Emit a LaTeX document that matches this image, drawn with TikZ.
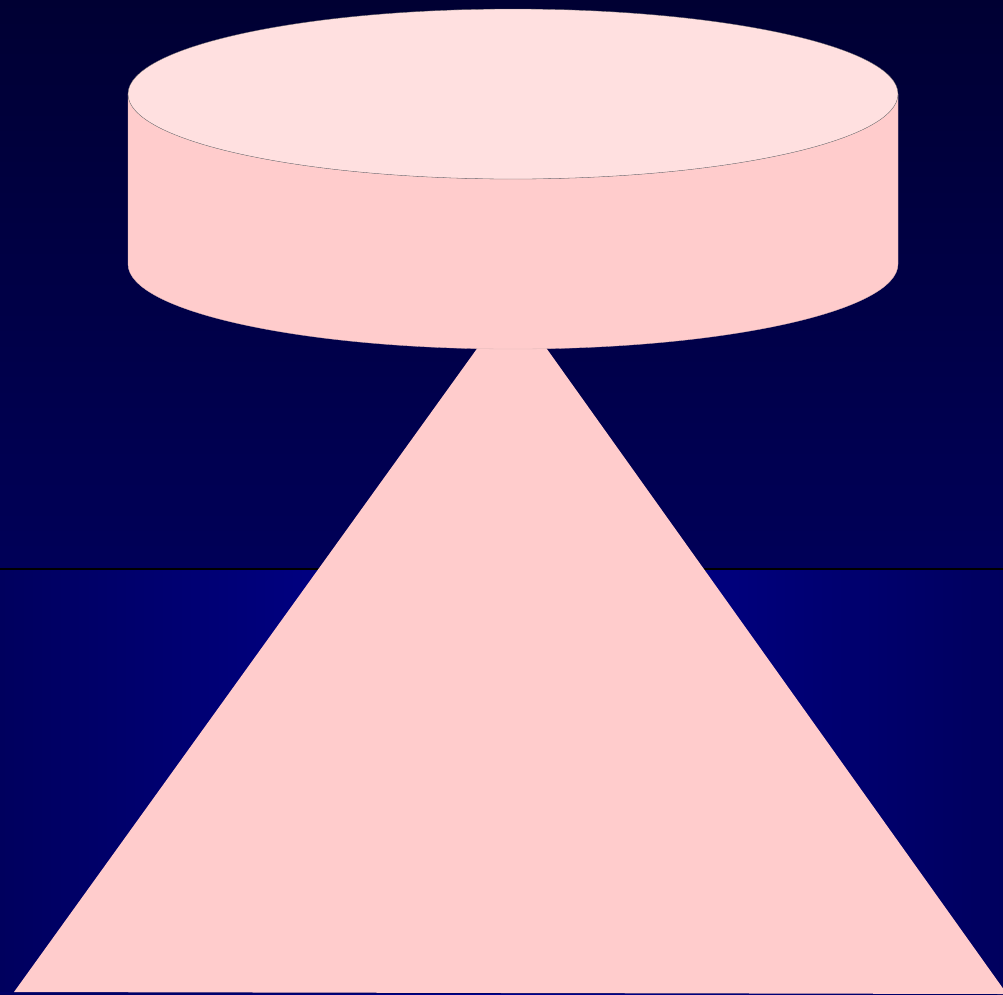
\documentclass[tikz,border=0pt]{standalone}
\begin{document}
\begin{tikzpicture}[x=1pt,y=-1pt,
  sky/.style={top color=skytop,bottom color=skybot},
  ground/.style={left color=groundedge,right color=groundedge,middle color=groundmid},
  pinkside/.style={fill=sidepink,draw=sidepink!70!gray,line width=0.3pt},
  pinktop/.style={fill=toppink,draw=black!60,line width=0.3pt},
  cone/.style={fill=sidepink}]
\definecolor{skytop}{HTML}{000033}
\definecolor{skybot}{HTML}{000058}
\definecolor{groundedge}{HTML}{00005E}
\definecolor{groundmid}{HTML}{000094}
\definecolor{toppink}{HTML}{FFE0E0}
\definecolor{sidepink}{HTML}{FFCCCC}
\useasboundingbox (0,0) rectangle (1003,994);
% background
\shade[sky] (0,0) rectangle (1003,569);
\shade[ground] (0,569) rectangle (1003,994);
\draw[black,line width=1.5pt] (0,569) -- (1003,569);
\draw[blue!40!black,line width=1.5pt] (0,993) -- (1003,993);
% cone
\coordinate (apex) at (512,300);
\coordinate (bl) at (14,992);
\coordinate (br) at (1007,994);
\fill[cone] (apex) -- (bl) -- (br) -- cycle;
% cylinder side
\path[pinkside] (128,94) -- (128,264) arc[start angle=180,end angle=0,x radius=385,y radius=85]
  -- (898,94) arc[start angle=0,end angle=180,x radius=385,y radius=85] -- cycle;
% cylinder top
\path[pinktop] (513,94) ellipse[x radius=385,y radius=85];
\end{tikzpicture}
\end{document}
